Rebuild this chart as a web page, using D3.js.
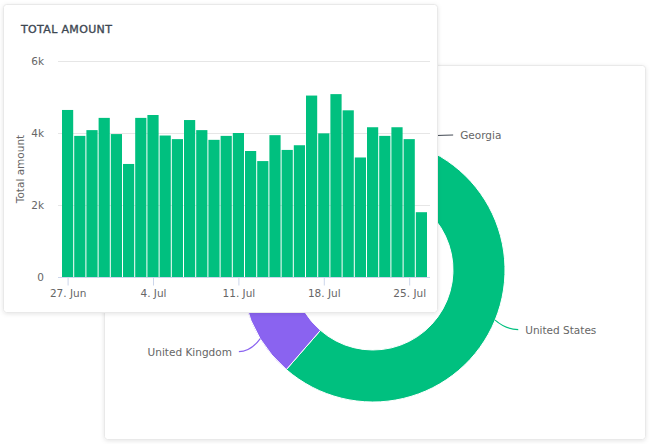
<!DOCTYPE html>
<html>
<head>
<meta charset="utf-8">
<script src="https://cdn.jsdelivr.net/npm/d3@7"></script>
<style>
  html, body { margin: 0; padding: 0; background: #fff; }
  svg { display: block; }
  text { font-family: "DejaVu Sans", sans-serif; }
</style>
</head>
<body>
<div id="chart"></div>
<script>
// bar chart data (daily totals)
var days = ["2021-06-27","2021-06-28","2021-06-29","2021-06-30","2021-07-01","2021-07-02",
  "2021-07-03","2021-07-04","2021-07-05","2021-07-06","2021-07-07","2021-07-08","2021-07-09",
  "2021-07-10","2021-07-11","2021-07-12","2021-07-13","2021-07-14","2021-07-15","2021-07-16",
  "2021-07-17","2021-07-18","2021-07-19","2021-07-20","2021-07-21","2021-07-22","2021-07-23",
  "2021-07-24","2021-07-25","2021-07-26"];
var amounts = [4640,3920,4080,4420,3970,3140,4420,4500,3930,3830,4360,4080,3810,3920,4000,
  3500,3220,3940,3530,3660,5040,3990,5080,4630,3320,4160,3920,4160,3830,1800];
var yTicks = [0,2000,4000,6000];

// donut data (share by country)
var countries = ["Georgia","United States","United Kingdom","Germany","France","Canada"];
var shares = [1.0,60.4,9.8,13.0,9.0,6.8];
var sliceColors = ["#434a54","#00c07f","#8a63f0","#f7a35c","#7cb5ec","#f15c80"];

const W = 651, H = 444;
const svg = d3.select("#chart").append("svg").attr("width", W).attr("height", H);

const defs = svg.append("defs");
defs.append("filter").attr("id","shadow").attr("x","-5%").attr("y","-5%").attr("width","110%").attr("height","110%")
  .append("feDropShadow").attr("dx",0).attr("dy",1).attr("stdDeviation",2)
  .attr("flood-color","#000").attr("flood-opacity",0.10);

function card(x, y, w, h){
  svg.append("rect")
     .attr("x", x).attr("y", y).attr("width", w).attr("height", h)
     .attr("rx", 3)
     .attr("fill", "#fff")
     .attr("stroke", "#e9e9e9")
     .attr("filter", "url(#shadow)");
}

// ---------- back card: donut ----------
card(104.5, 65.5, 541, 374);

const cx = 373, cy = 270, rOut = 132, rIn = 80, labelR = 157, plotTop = 135;
const pie = d3.pie().sort(null).value(d => d)(shares);
const arc = d3.arc().innerRadius(rIn).outerRadius(rOut);
const donut = svg.append("g").attr("transform", "translate(" + cx + "," + cy + ")");

donut.selectAll("path.slice")
  .data(pie)
  .enter()
  .append("path")
  .attr("class","slice")
  .attr("d", arc)
  .attr("fill", (d,i) => sliceColors[i])
  .attr("stroke", "#fff")
  .attr("stroke-width", 1);

// labels placed on a circle round the donut, like the library default
pie.forEach(function(d, i){
  var a = (d.startAngle + d.endAngle) / 2;
  var side = Math.sin(a) >= 0 ? 1 : -1;
  var ex = Math.sin(a) * rOut, ey = -Math.cos(a) * rOut;
  var ly = Math.max(-Math.cos(a) * labelR, plotTop - cy);
  var lx = side * Math.sqrt(Math.max(labelR*labelR - ly*ly, 0));
  donut.append("path")
    .attr("d", "M" + lx + "," + ly + " Q" + (lx - side*12) + "," + ly + " " + ex + "," + ey)
    .attr("fill", "none")
    .attr("stroke", sliceColors[i])
    .attr("stroke-width", 1.2);
  donut.append("text")
    .attr("x", lx + side*7)
    .attr("y", ly + 4)
    .attr("text-anchor", side > 0 ? "start" : "end")
    .attr("font-size", "10.5px")
    .attr("fill", "#666")
    .text(countries[i]);
});

// ---------- front card: bar chart ----------
card(3.5, 4.5, 434, 308);

svg.append("text")
   .attr("x", 21).attr("y", 32.5)
   .attr("font-family", "Roboto, sans-serif")
   .attr("font-size", "11px")
   .attr("letter-spacing", "0.35px")
   .attr("fill", "#3d4752")
   .attr("stroke", "#3d4752")
   .attr("stroke-width", 0.35)
   .text("TOTAL AMOUNT");

const parse = d3.utcParse("%Y-%m-%d");
const data = days.map((d, i) => ({ date: parse(d), value: amounts[i] }));

const left = 58, right = 430;
const x = d3.scaleUtc()
  .domain([d3.utcHour.offset(data[0].date, -12), d3.utcHour.offset(data[data.length-1].date, 12)])
  .range([61.5, 427.5]);
const y = d3.scaleLinear().domain([0, 6000]).range([277, 61]);

// grid lines
svg.append("g").selectAll("line")
  .data(yTicks)
  .enter()
  .append("line")
  .attr("x1", left).attr("x2", right)
  .attr("y1", d => y(d) + 0.5).attr("y2", d => y(d) + 0.5)
  .attr("stroke", "#e6e6e6");

// y labels
svg.append("g").selectAll("text")
  .data(yTicks)
  .enter()
  .append("text")
  .attr("x", 44)
  .attr("y", d => y(d) + 4)
  .attr("text-anchor", "end")
  .attr("font-size", "10.5px")
  .attr("fill", "#666")
  .text(d => d === 0 ? "0" : (d/1000) + "k");

svg.append("text")
   .attr("transform", "translate(24," + ((y(0)+y(6000))/2) + ") rotate(-90)")
   .attr("text-anchor", "middle")
   .attr("font-size", "10.5px")
   .attr("fill", "#666")
   .text("Total amount");

// bars
svg.append("g").selectAll("rect")
  .data(data)
  .enter()
  .append("rect")
  .attr("x", d => x(d3.utcHour.offset(d.date, -12)) + 0.5)
  .attr("width", d => x(d3.utcHour.offset(d.date, 12)) - x(d3.utcHour.offset(d.date, -12)) - 1)
  .attr("y", d => y(d.value))
  .attr("height", d => y(0) - y(d.value))
  .attr("fill", "#00c07f");

// x axis
var weekly = data.filter((d, i) => i % 7 === 0).map(d => d.date);
const xAxis = d3.axisBottom(x)
  .tickValues(weekly)
  .tickSize(8)
  .tickPadding(4)
  .tickFormat(d3.utcFormat("%-d. %b"));

const gx = svg.append("g")
  .attr("transform", "translate(0," + (y(0) + 0.5) + ")")
  .call(xAxis);
gx.select(".domain").remove();
gx.append("line").attr("x1", left).attr("x2", right).attr("stroke", "#ccd6eb");
gx.selectAll(".tick line").attr("stroke", "#ccd6eb");
gx.selectAll(".tick text")
  .attr("font-family", "DejaVu Sans, sans-serif")
  .attr("font-size", "10.5px")
  .attr("fill", "#666");
</script>
</body>
</html>
